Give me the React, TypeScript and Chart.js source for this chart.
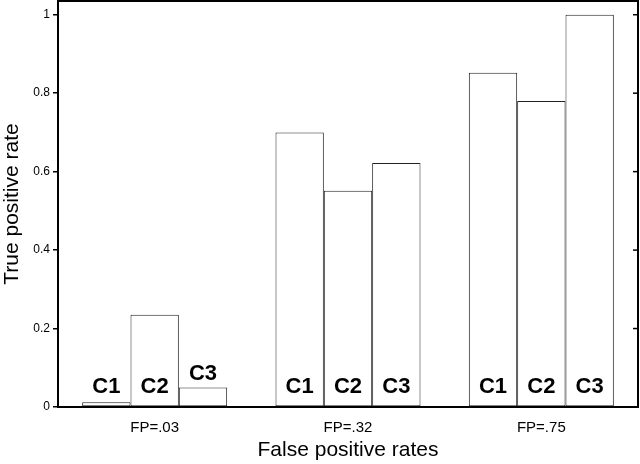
import { useEffect, useRef } from "react"
import Chart from "chart.js/auto"

// Data
const groups = ["FP=.03", "FP=.32", "FP=.75"]
const classifiers = ["C1", "C2", "C3"]
const c1Values = [0.012, 0.7, 0.852]
const c2Values = [0.235, 0.551, 0.78]
const c3Values = [0.05, 0.622, 1.0]
const yTicks = [0, 0.2, 0.4, 0.6, 0.8, 1]

const FONT = "'Liberation Sans', Arial, Helvetica, sans-serif"

export default function App() {
  const chartRef = useRef<HTMLCanvasElement>(null)
  const chartInstance = useRef<Chart | null>(null)

  useEffect(() => {
    if (!chartRef.current) return
    if (chartInstance.current) chartInstance.current.destroy()
    const ctx = chartRef.current.getContext("2d")
    if (!ctx) return

    // frame, inward ticks on the right, and C1/C2/C3 labels on the bars
    const decorPlugin = {
      id: "decor",
      afterDatasetsDraw(chart: any) {
        const c = chart.ctx
        const { left, right, top, bottom } = chart.chartArea
        const yScale = chart.scales.y
        c.save()
        c.strokeStyle = "#000"
        c.lineWidth = 2
        c.strokeRect(left, top, right - left, bottom - top)
        c.lineWidth = 1.5
        yTicks.forEach((v) => {
          const y = yScale.getPixelForValue(v)
          c.beginPath()
          c.moveTo(right, y)
          c.lineTo(right - 5, y)
          c.stroke()
        })
        c.fillStyle = "#000"
        c.font = `bold 22px ${FONT}`
        c.textAlign = "center"
        c.textBaseline = "alphabetic"
        const base = bottom - 14
        chart.data.datasets.forEach((ds: any, i: number) => {
          const meta = chart.getDatasetMeta(i)
          meta.data.forEach((el: any) => {
            // inside the bar near the axis when it fits, else just above the bar
            const y = el.y < base - 18 ? base : Math.min(base, el.y - 7)
            c.fillText(ds.label, el.x, y)
          })
        })
        c.restore()
      },
    }

    const series = [c1Values, c2Values, c3Values]

    chartInstance.current = new Chart(ctx, {
      type: "bar",
      data: {
        labels: groups,
        datasets: classifiers.map((name, i) => ({
          label: name,
          data: series[i],
          backgroundColor: "#ffffff",
          borderColor: "#222222",
          borderWidth: 1,
          borderSkipped: false,
          categoryPercentage: 0.75,
          barPercentage: 1,
        })),
      },
      options: {
        animation: false,
        responsive: true,
        maintainAspectRatio: false,
        layout: { padding: { top: 1, right: 2, left: 0, bottom: 0 } },
        plugins: {
          legend: { display: false },
          tooltip: { enabled: false },
        },
        scales: {
          x: {
            grid: { display: false },
            border: { display: false },
            ticks: {
              color: "#000",
              font: { family: FONT, size: 15 },
              padding: 4,
            },
            title: {
              display: true,
              text: "False positive rates",
              color: "#000",
              font: { family: FONT, size: 21 },
              padding: { top: 0, bottom: 1 },
            },
            afterFit: (s: any) => {
              s.height = 57
              s.paddingLeft = 0
              s.paddingRight = 0
            },
          },
          y: {
            min: 0,
            max: 1.035,
            grid: {
              drawOnChartArea: false,
              drawTicks: true,
              tickLength: 5,
              color: "#000",
              lineWidth: 1.5,
            },
            border: { display: true, color: "#000", width: 2 },
            ticks: {
              color: "#000",
              font: { family: FONT, size: 12 },
              padding: 3,
              callback: (value: any) => String(value),
            },
            afterBuildTicks: (s: any) => {
              s.ticks = yTicks.map((v) => ({ value: v }))
            },
            title: {
              display: true,
              text: "True positive rate",
              color: "#000",
              font: { family: FONT, size: 21 },
              padding: { top: 0, bottom: 0 },
            },
            afterFit: (s: any) => {
              s.width = 58
              s.paddingTop = 0
              s.paddingBottom = 0
            },
          },
        },
      },
      plugins: [decorPlugin],
    })

    return () => {
      if (chartInstance.current) {
        chartInstance.current.destroy()
        chartInstance.current = null
      }
    }
  }, [])

  return (
    <div style={{ position: "absolute", left: 0, top: 0, width: 640, height: 464, background: "#fff" }}>
      <canvas ref={chartRef}></canvas>
    </div>
  )
}
